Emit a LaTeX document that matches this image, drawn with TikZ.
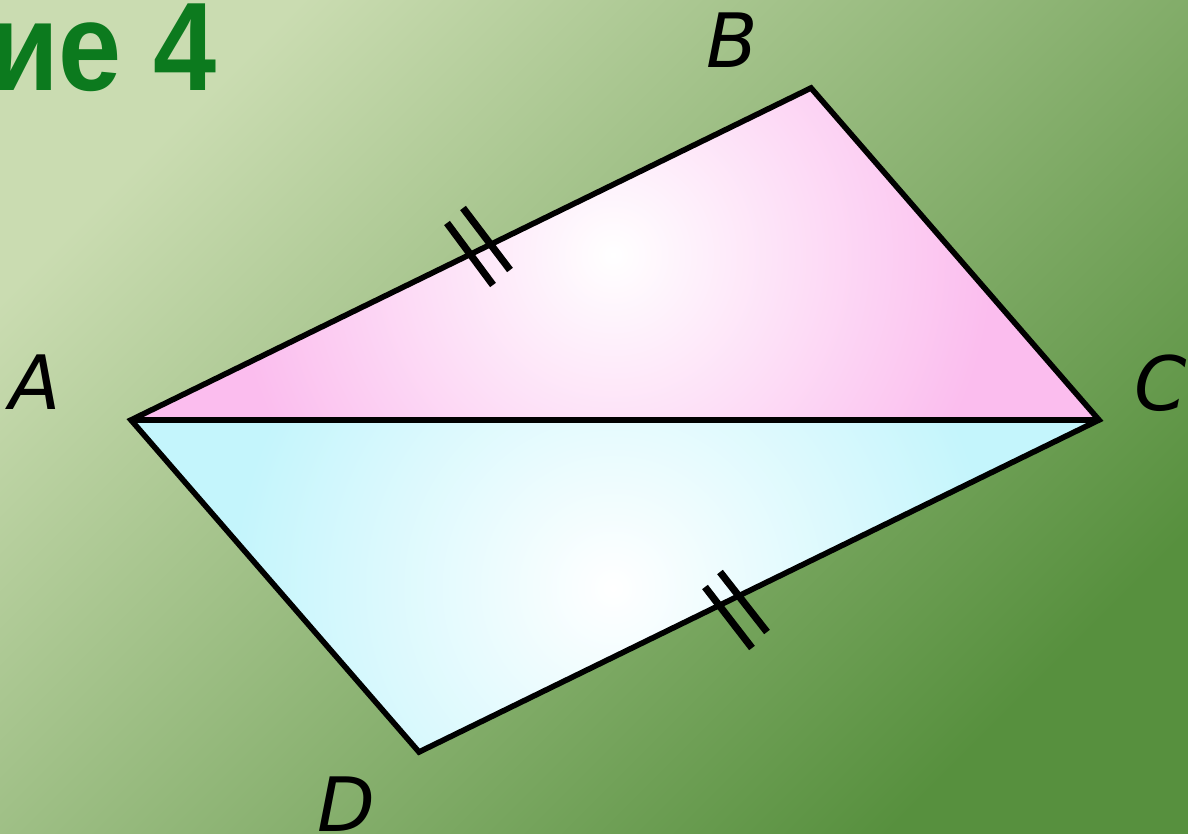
\documentclass[tikz,border=0pt]{standalone}
\usepackage{fontspec}
\usepackage{xcolor}
\usepackage{tikz}
\newfontfamily\labelFont{DejaVu Sans}
\newfontfamily\titleFont{Liberation Sans}
\definecolor{bgLight}{HTML}{CADCB1}
\definecolor{bgMid}{HTML}{9CBA74}
\definecolor{bgDark}{HTML}{57903E}
\definecolor{titleGreen}{HTML}{0C7A1E}
\definecolor{pinkEdge}{HTML}{FBBDEE}
\definecolor{cyanEdge}{HTML}{C4F5FC}

\begin{document}
\begin{tikzpicture}[x=0.5pt,y=-0.5pt,
  edge/.style={line width=2.8pt},
  tickmark/.style={line width=3.6pt},
  vlabel/.style={inner sep=0pt,font=\labelFont\itshape\fontsize{37.5}{40}\selectfont}]
\useasboundingbox (0,0) rectangle (1188,834);
\clip (0,0) rectangle (1188,834);
\shade[top color=bgLight,middle color=bgMid,bottom color=bgDark,shading angle=45] (0,0) rectangle (1188,834);
\node[anchor=base east,inner sep=0pt,text=titleGreen,font=\titleFont\bfseries\fontsize{63}{63}\selectfont] (title) at (217,91) {\scalebox{0.9}[1]{ие 4}};
% vertices
\coordinate (A) at (131,420);
\coordinate (B) at (811,88);
\coordinate (C) at (1099,420);
\coordinate (D) at (419,752);
% fills
\begin{scope}
\clip (A)--(B)--(C)--cycle;
\fill[pinkEdge] (A)--(B)--(C)--cycle;
\shade[inner color=white,outer color=pinkEdge] (613,255) circle (380);
\end{scope}
\begin{scope}
\clip (A)--(C)--(D)--cycle;
\fill[cyanEdge] (A)--(C)--(D)--cycle;
\shade[inner color=white,outer color=cyanEdge] (613,588) circle (380);
\end{scope}
\draw[edge] (A)--(B)--(C)--(D)--cycle (A)--(C);
% equal sides
\draw[tickmark] (447,223)--(493,285) (463,208)--(510,270);
\draw[tickmark] (705,587)--(752,648) (720,572)--(767,632);
\node[vlabel] (labelA) at (35,382) {A};
\node[vlabel] (labelB) at (732,40) {B};
\node[vlabel] (labelC) at (1161,383) {C};
\node[vlabel] (labelD) at (346,804) {D};
\end{tikzpicture}
\end{document}
